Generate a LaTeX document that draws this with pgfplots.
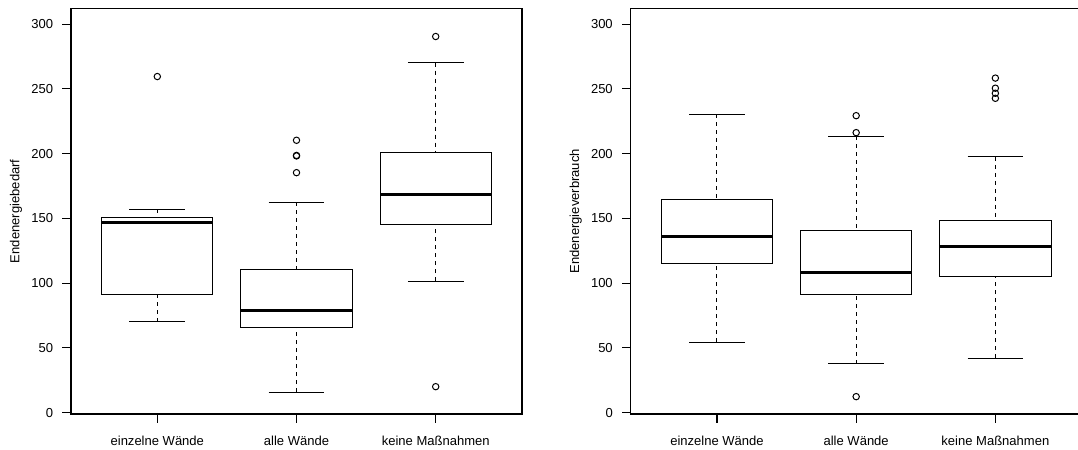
\documentclass[border=0pt]{standalone}
\usepackage{fontspec}
\setmainfont{Liberation Sans}
\usepackage{pgfplots}
\pgfplotsset{compat=1.18}

\pgfplotsset{
  rpanel/.style={
    scale only axis,
    width=338.25bp, height=304.1bp,
    xmin=0.38, xmax=3.62,
    ymin=-1, ymax=312,
    xtick={1,2,3},
    xticklabels={einzelne Wände, alle Wände, keine Maßnahmen},
    ytick={0,50,100,150,200,250,300},
    tick pos=left,
    tick align=outside,
    major tick length=6.5bp,
    axis line style={line width=0.8bp},
    every tick/.append style={black, line width=0.8bp},
    /pgf/number format/assume math mode=true,
    tick label style={font=\fontsize{9.8}{11}\selectfont, inner sep=0pt},
    xticklabel style={anchor=base, yshift=-17.05bp},
    yticklabel style={anchor=east, xshift=-6.75bp},
    label style={font=\fontsize{9.8}{11}\selectfont},
    ylabel style={at={(axis description cs:0,0.5)}, anchor=center, xshift=0pt, yshift=41.25bp},
  },
  rline/.style={black, line width=0.75bp, mark=none},
  rdash/.style={black, line width=0.75bp, mark=none, dash pattern=on 3bp off 3bp},
  rmed/.style={black, line width=2.25bp, mark=none},
  rout/.style={black, only marks, mark=o, mark size=2.4bp, mark options={solid, line width=0.75bp}},
}

% box: left, right, lower quartile, median, upper quartile
\newcommand{\rboxbody}[5]{%
  \addplot[rline, line join=miter] coordinates {(#1,#3) (#2,#3) (#2,#5) (#1,#5) (#1,#3) (#2,#3)};
  \addplot[rmed] coordinates {(#1,#4) (#2,#4)};
}
% whiskers: centre, cap left, cap right, lower whisker, lower quartile, upper quartile, upper whisker
\newcommand{\rwhisk}[7]{%
  \addplot[rdash] coordinates {(#1,#4) (#1,#5)};
  \addplot[rdash] coordinates {(#1,#7) (#1,#6)};
  \addplot[rline] coordinates {(#2,#4) (#3,#4)};
  \addplot[rline] coordinates {(#2,#7) (#3,#7)};
}

\begin{document}
\begin{tikzpicture}
\path[use as bounding box] (0,0) rectangle (808.5bp,337.5bp);

\begin{axis}[rpanel, at={(53.25bp,27bp)}, anchor=south west, ylabel={Endenergiebedarf}]
% einzelne Wände
\rwhisk{1}{0.8}{1.2}{70.4}{91.2}{150.5}{157.2}
\rboxbody{0.6}{1.4}{91.2}{146.6}{150.5}
\addplot[rout] coordinates {(1,259.5)};
% alle Wände
\rwhisk{2}{1.8}{2.2}{15.9}{66.0}{110.8}{162.4}
\rboxbody{1.6}{2.4}{66.0}{79.1}{110.8}
\addplot[rout] coordinates {(2,185.3) (2,198.2) (2,198.6) (2,210.3)};
% keine Maßnahmen
\rwhisk{3}{2.8}{3.2}{101.5}{145.4}{201.0}{270.3}
\rboxbody{2.6}{3.4}{145.4}{168.6}{201.0}
\addplot[rout] coordinates {(3,20.1) (3,290.4)};
\end{axis}

\begin{axis}[rpanel, at={(473.0bp,27bp)}, anchor=south west, ylabel={Endenergieverbrauch}]
% einzelne Wände
\rwhisk{1}{0.8}{1.2}{54.4}{114.9}{164.2}{230.4}
\rboxbody{0.6}{1.4}{114.9}{136.3}{164.2}
% alle Wände
\rwhisk{2}{1.8}{2.2}{37.9}{91.2}{140.4}{213.4}
\rboxbody{1.6}{2.4}{91.2}{108.3}{140.4}
\addplot[rout] coordinates {(2,12.4) (2,216.2) (2,229.3)};
% keine Maßnahmen
\rwhisk{3}{2.8}{3.2}{42.2}{105.2}{148.5}{197.4}
\rboxbody{2.6}{3.4}{105.2}{128.1}{148.5}
\addplot[rout] coordinates {(3,242.7) (3,246.6) (3,250.5) (3,258.3)};
\end{axis}
\end{tikzpicture}
\end{document}
